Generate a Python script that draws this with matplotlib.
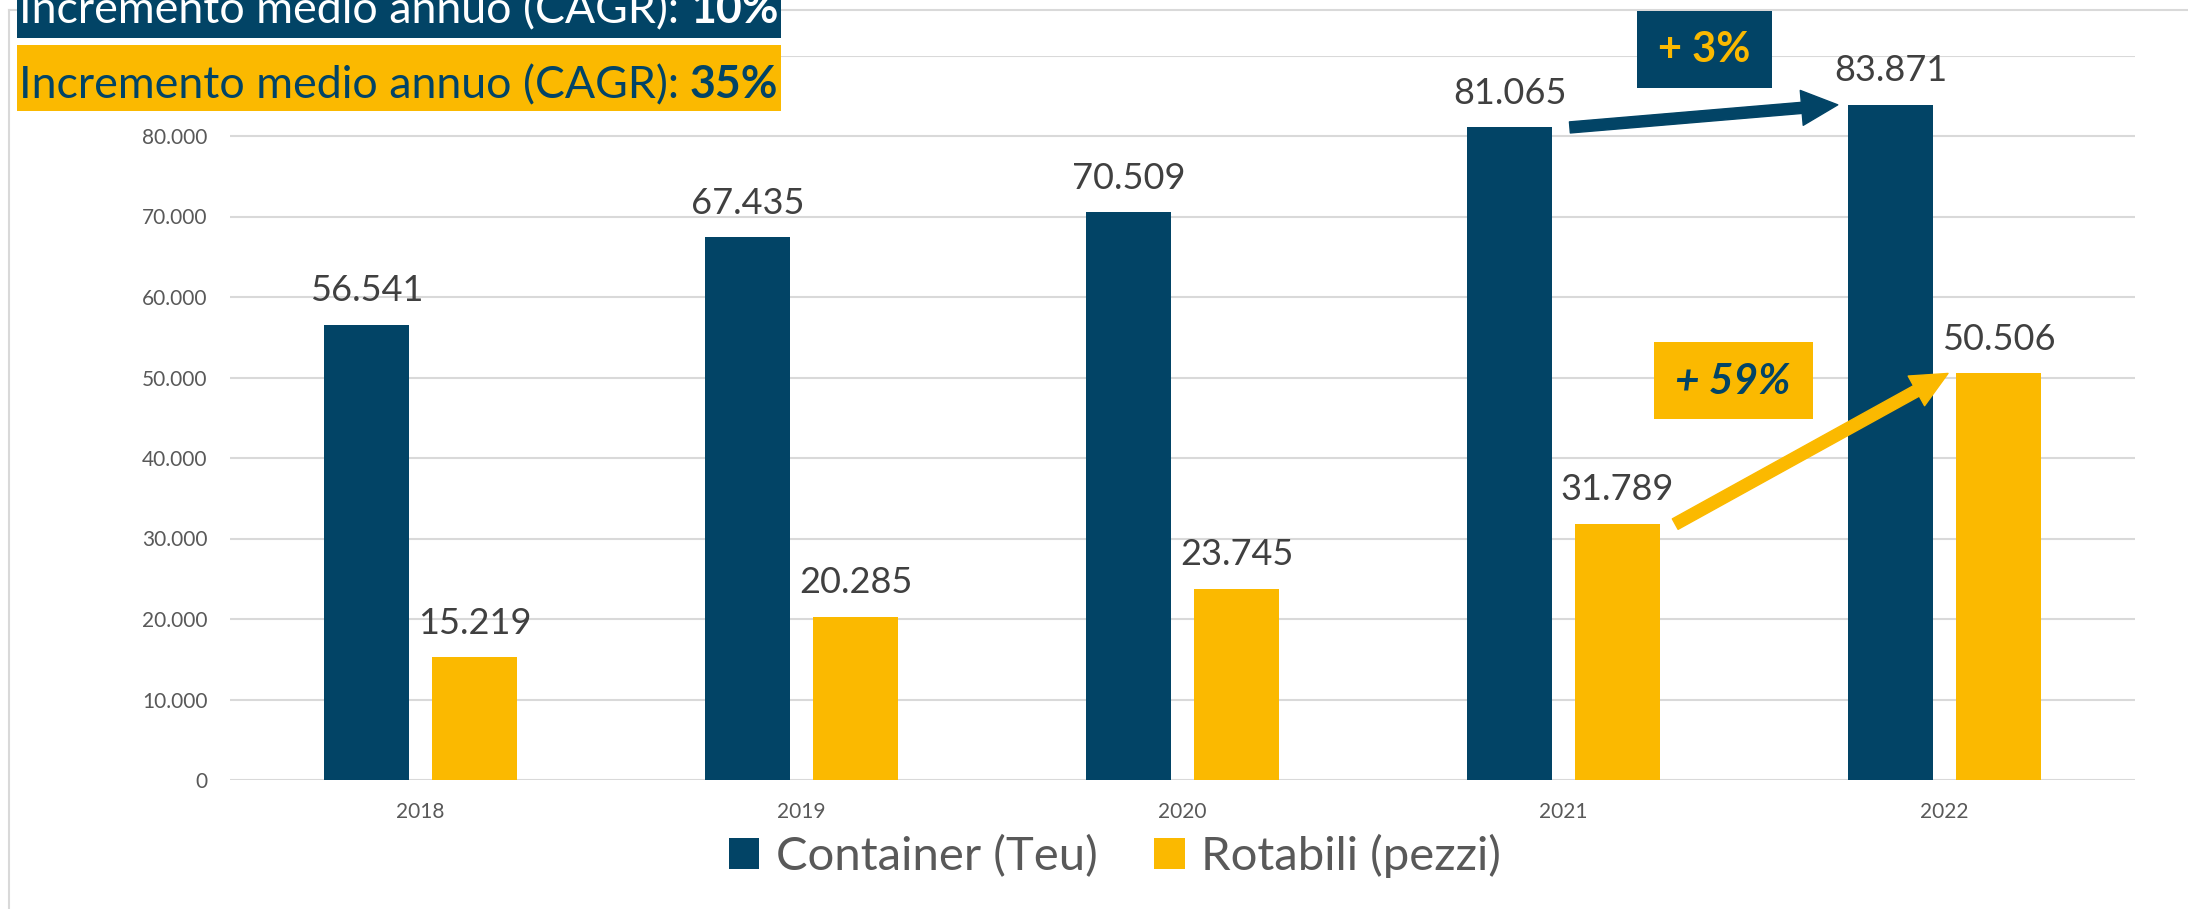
import matplotlib
matplotlib.use('Agg')
import matplotlib.pyplot as plt
from matplotlib.patches import Rectangle
from matplotlib.lines import Line2D
from matplotlib.ticker import FuncFormatter, MultipleLocator
import numpy as np

# ---------------- data ----------------
years = ['2018', '2019', '2020', '2021', '2022']
container = [56541, 67435, 70509, 81065, 83871]
rotabili = [15219, 20285, 23745, 31789, 50506]
series_names = ['Container (Teu)', 'Rotabili (pezzi)']
cagr_label = 'Incremento medio annuo (CAGR):'
cagr_container = '10%'
cagr_rotabili = '35%'
growth_container = '+ 3%'
growth_rotabili = '+ 59%'

# ---------------- style ----------------
NAVY = '#024466'
YELLOW = '#FBB900'
LABEL = '#404040'
TICK = '#595959'
GRID = '#D9D9D9'
plt.rcParams['font.family'] = ['Lato', 'DejaVu Sans']

W, H = 2188, 909
fig = plt.figure(figsize=(W / 100, H / 100), dpi=100)
fig.patch.set_facecolor('white')


def fx(px):
    return px / W


def fy(py):
    return 1 - py / H


def fmt(v):
    return f"{int(round(v)):,}".replace(',', '.')


# chart border (left/top visible)
fig.add_artist(Line2D([fx(9), fx(9)], [fy(10), fy(H + 5)], color=GRID, lw=1.5))
fig.add_artist(Line2D([fx(9), fx(W + 5)], [fy(10), fy(10)], color=GRID, lw=1.5))

ax = fig.add_axes([fx(230), fy(780), fx(2135) - fx(230), fy(55.5) - fy(780)])
ax.set_facecolor('none')
x = np.arange(len(years))
bw = 0.223
off = 0.1417
ax.bar(x - off, container, bw, color=NAVY, zorder=3, label=series_names[0])
ax.bar(x + off, rotabili, bw, color=YELLOW, zorder=3, label=series_names[1])
ax.set_xlim(-0.5, len(years) - 0.5)
ax.set_ylim(0, 90000)
ax.yaxis.set_major_locator(MultipleLocator(10000))
ax.yaxis.set_major_formatter(FuncFormatter(lambda v, p: fmt(v)))
ax.grid(axis='y', color=GRID, lw=1.5, zorder=0)
ax.set_axisbelow(True)
for s in ax.spines.values():
    s.set_visible(False)
ax.set_xticks(x, years)
ax.tick_params(axis='both', length=0, labelsize=15, colors=TICK)
ax.tick_params(axis='y', pad=16)
ax.tick_params(axis='x', pad=16)

# data labels
for xi, v in zip(x - off, container):
    ax.annotate(fmt(v), (xi, v), xytext=(0, 17), textcoords='offset points',
                ha='center', va='baseline', fontsize=26, color=LABEL, zorder=5)
for xi, v in zip(x + off, rotabili):
    ax.annotate(fmt(v), (xi, v), xytext=(0, 17), textcoords='offset points',
                ha='center', va='baseline', fontsize=26, color=LABEL, zorder=5)

# growth arrows
ax.annotate('', xy=(x[4] - off - bw / 2 - 0.027, container[4]),
            xytext=(x[3] - off + bw / 2 + 0.047, container[3]),
            arrowprops=dict(arrowstyle='simple,head_length=1.3,head_width=1.26,tail_width=0.4',
                            mutation_scale=20, color=NAVY, shrinkA=0, shrinkB=0), zorder=6)
ax.annotate('', xy=(x[4] + off - bw / 2 - 0.021, rotabili[4]),
            xytext=(x[3] + off + bw / 2 + 0.04, rotabili[3]),
            arrowprops=dict(arrowstyle='simple,head_length=1.3,head_width=1.22,tail_width=0.43',
                            mutation_scale=20, color=YELLOW, shrinkA=0, shrinkB=0), zorder=6)

# growth boxes
fig.add_artist(Rectangle((fx(1637), fy(88)), fx(1772) - fx(1637), fy(11) - fy(88),
                         facecolor=NAVY, edgecolor='none', zorder=4))
fig.text(fx(1704), fy(50), growth_container, ha='center', va='center', fontsize=30,
         fontweight='bold', color=YELLOW, zorder=5)
fig.add_artist(Rectangle((fx(1654), fy(419)), fx(1813) - fx(1654), fy(342) - fy(419),
                         facecolor=YELLOW, edgecolor='none', zorder=4))
fig.text(fx(1733), fy(382), growth_rotabili, ha='center', va='center', fontsize=30.5,
         fontweight='bold', fontstyle='italic', color=NAVY, zorder=5)

# CAGR boxes
fig.add_artist(Rectangle((fx(17), fy(38)), fx(781) - fx(17), fy(-10) - fy(38),
                         facecolor=NAVY, edgecolor='none', zorder=4))
fig.add_artist(Rectangle((fx(17), fy(111)), fx(781) - fx(17), fy(45) - fy(111),
                         facecolor=YELLOW, edgecolor='none', zorder=4))

renderer = fig.canvas.get_renderer()


def mixed_text(x0, x1, ybase, normal, bold, color, fs0=30.0):
    t1 = fig.text(fx(x0), fy(ybase), normal, fontsize=fs0, color=color,
                  va='baseline', ha='left', zorder=5)
    t2 = fig.text(fx(x0), fy(ybase), bold, fontsize=fs0, fontweight='bold', color=color,
                  va='baseline', ha='left', zorder=5)
    w1 = t1.get_window_extent(renderer).width
    w2 = t2.get_window_extent(renderer).width
    sp = 0.24 * fs0 * 100 / 72
    fs = fs0 * (x1 - x0) / (w1 + sp + w2)
    t1.set_fontsize(fs)
    t2.set_fontsize(fs)
    w1 = t1.get_window_extent(renderer).width
    t2.set_position((fx(x0 + w1 + 0.24 * fs * 100 / 72), fy(ybase)))


mixed_text(19, 778, 23, cagr_label, cagr_container, 'white')
mixed_text(19, 778, 98, cagr_label, cagr_rotabili, NAVY)

# legend
handles = [Rectangle((0, 0), 1, 1, facecolor=NAVY, edgecolor='none'),
           Rectangle((0, 0), 1, 1, facecolor=YELLOW, edgecolor='none')]
fig.legend(handles, series_names, loc='center', bbox_to_anchor=(fx(1115), fy(856)),
           ncol=2, frameon=False, fontsize=34, labelcolor=TICK,
           handlelength=0.65, handleheight=0.65, handletextpad=0.35, columnspacing=1.2,
           borderpad=0, borderaxespad=0)

fig.savefig('out.png', dpi=100, facecolor='white')
